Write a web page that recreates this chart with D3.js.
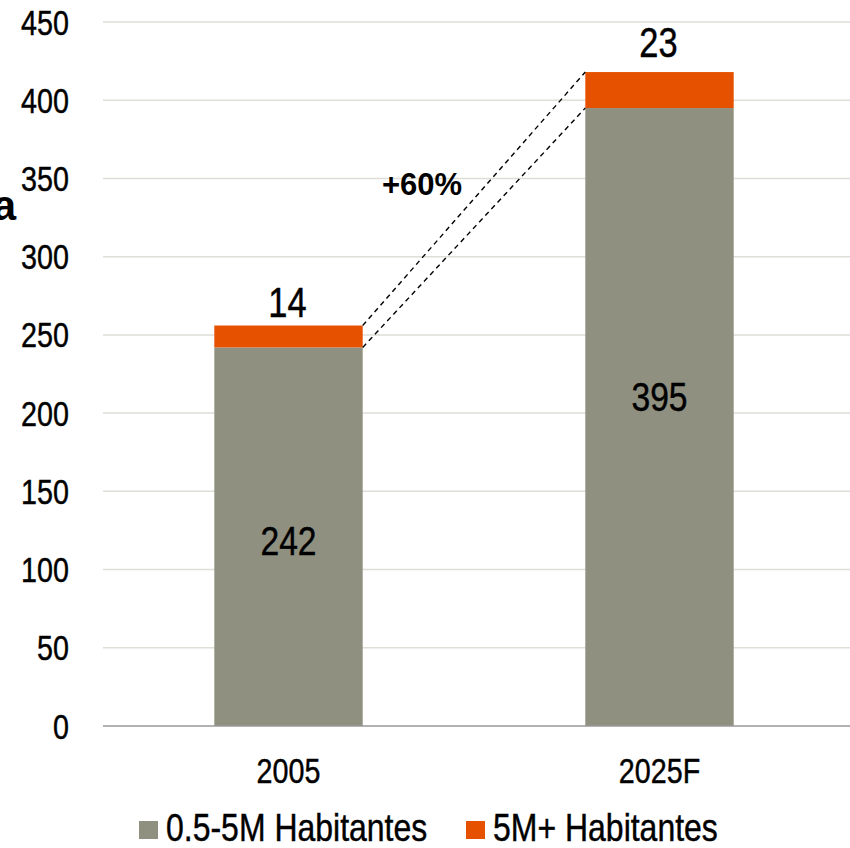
<!DOCTYPE html>
<html><head><meta charset="utf-8">
<script src="https://cdn.jsdelivr.net/npm/d3@7/dist/d3.min.js"></script>
<style>
body{margin:0;background:#fff;}
svg{display:block;}
.narrow{font-family:"Liberation Sans",Arial,sans-serif;stroke:#000;stroke-width:0.45px;fill:#000;}
</style></head>
<body>
<svg id="c" width="850" height="848"></svg>
<script>
const categories = ["2005", "2025F"];
const seriesNames = ["0.5-5M Habitantes", "5M+ Habitantes"];
const smallCities = [242, 395];
const megaCities = [14, 23];
const yTicks = [0, 50, 100, 150, 200, 250, 300, 350, 400, 450];
const growthLabel = "+60%";
const colors = ["#909080", "#E65100"];

const NARROW = 0.82; // emulate Arial Narrow
const svg = d3.select("#c");
const x = d3.scaleBand().domain(categories).range([103, 845]).paddingInner(0.6).paddingOuter(0.3);
const y = d3.scaleLinear().domain([0, 450]).range([726, 22]);

function narrowText(sel, fx, fy) {
  return sel.attr("class", "narrow")
    .attr("transform", (d, i) => `translate(${fx(d, i)},${fy(d, i)}) scale(${NARROW},1)`);
}

// gridlines
svg.append("g").selectAll("line").data(yTicks.filter(d => d > 0)).join("line")
  .attr("x1", 103).attr("x2", 850)
  .attr("y1", d => y(d)).attr("y2", d => y(d))
  .attr("stroke", "#DEDED6").attr("stroke-width", 1.5);

// y tick labels
narrowText(svg.append("g").selectAll("text").data(yTicks).join("text"), () => 69, d => y(d))
  .attr("dy", "0.36em").attr("text-anchor", "end").attr("font-size", 35)
  .text(d => d);

const data = categories.map((c, i) => ({c, a: smallCities[i], b: megaCities[i]}));

// bars
svg.append("g").selectAll("rect").data(data).join("rect")
  .attr("x", d => x(d.c)).attr("width", x.bandwidth())
  .attr("y", d => y(d.a)).attr("height", d => y(0) - y(d.a))
  .attr("fill", colors[0]);
svg.append("g").selectAll("rect").data(data).join("rect")
  .attr("x", d => x(d.c)).attr("width", x.bandwidth())
  .attr("y", d => y(d.a + d.b)).attr("height", d => y(d.a) - y(d.a + d.b))
  .attr("fill", colors[1]);

// axis line
svg.append("line").attr("x1", 103).attr("x2", 850).attr("y1", y(0)).attr("y2", y(0))
  .attr("stroke", "#999").attr("stroke-width", 1.5);

// category labels
narrowText(svg.append("g").selectAll("text").data(categories).join("text"),
  d => x(d) + x.bandwidth() / 2, () => 783)
  .attr("text-anchor", "middle").attr("font-size", 35).text(d => d);

// value labels
const midOffset = [4, -21];
const topGap = [9, 15];
narrowText(svg.append("g").selectAll("text").data(data).join("text"),
  d => x(d.c) + x.bandwidth() / 2, (d, i) => (y(0) + y(d.a)) / 2 + midOffset[i])
  .attr("dy", "0.36em").attr("text-anchor", "middle").attr("font-size", 41).text(d => d.a);
narrowText(svg.append("g").selectAll("text").data(data).join("text"),
  d => x(d.c) + x.bandwidth() / 2 - 1, (d, i) => y(d.a + d.b) - topGap[i])
  .attr("text-anchor", "middle").attr("font-size", 42).text(d => d.b);

// dashed connectors
const d0 = data[0], d1 = data[1];
[[d0.a + d0.b, d1.a + d1.b], [d0.a, d1.a]].forEach(([v0, v1]) => {
  svg.append("line")
    .attr("x1", x(d0.c) + x.bandwidth()).attr("y1", y(v0))
    .attr("x2", x(d1.c)).attr("y2", y(v1))
    .attr("stroke", "#000").attr("stroke-width", 1.4).attr("stroke-dasharray", "5,4");
});
svg.append("text").attr("x", 422).attr("y", 195).attr("text-anchor", "middle")
  .attr("font-family", "Liberation Sans, Arial, sans-serif").attr("font-weight", "bold")
  .attr("font-size", 31).text(growthLabel);

// cut-off title fragment
svg.append("text").attr("x", 16).attr("y", 220).attr("text-anchor", "end")
  .attr("font-family", "Liberation Sans, Arial, sans-serif").attr("font-weight", "bold")
  .attr("font-size", 42).text("a");

// legend
const legX = [139, 466];
const leg = svg.append("g").selectAll("g").data(seriesNames).join("g")
  .attr("transform", (d, i) => `translate(${legX[i]},821)`);
leg.append("rect").attr("width", 19).attr("height", 18).attr("fill", (d, i) => colors[i]);
narrowText(leg.append("text"), () => 27, () => 20)
  .attr("font-size", 39).text(d => d);
</script>
</body></html>
